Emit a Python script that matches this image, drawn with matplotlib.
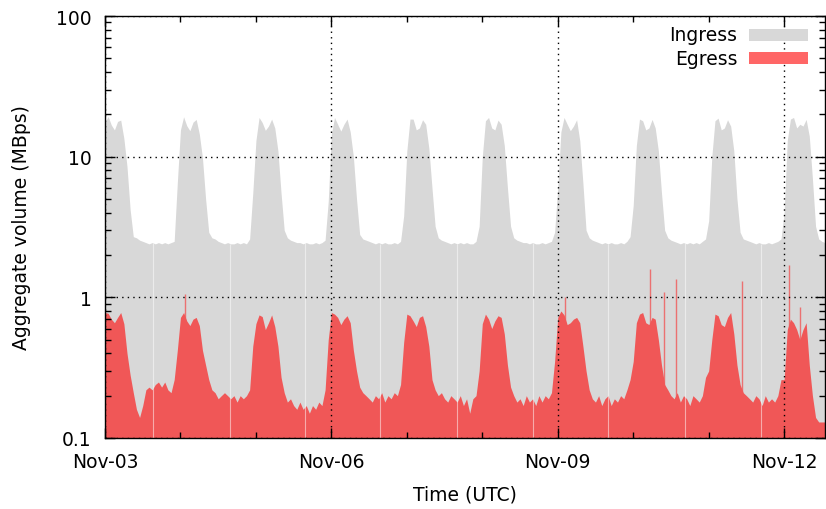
import numpy as np
import pandas as pd
import matplotlib
matplotlib.use('Agg')
import matplotlib.pyplot as plt
import matplotlib.dates as mdates
from matplotlib.patches import Rectangle

# hourly aggregate volume (MBps), one row per day starting Nov-03 00:00 UTC
ingress = [
    17.5, 19.3, 16.8, 15.5, 17.8, 18.2, 13.5, 8.5, 4.2, 2.7, 2.65, 2.55, 2.5, 2.45, 2.4, 2.45, 2.4, 2.45, 2.4, 2.45, 2.4, 2.45, 2.5, 6.5,
    15.5, 19.2, 16.6, 15.3, 17.6, 18.4, 14.5, 9.8, 5.0, 2.9, 2.65, 2.6, 2.5, 2.45, 2.4, 2.45, 2.4, 2.4, 2.45, 2.4, 2.45, 2.4, 2.6, 5.5,
    13.0, 19.0, 17.5, 15.4, 16.5, 18.5, 16.0, 11.0, 5.5, 3.0, 2.65, 2.55, 2.5, 2.45, 2.45, 2.4, 2.45, 2.4, 2.4, 2.45, 2.4, 2.45, 2.55, 4.8,
    14.5, 19.0, 17.0, 15.2, 17.0, 18.5, 15.0, 10.0, 5.0, 2.8, 2.6, 2.55, 2.5, 2.45, 2.4, 2.45, 2.4, 2.45, 2.4, 2.4, 2.45, 2.4, 2.5, 3.8,
    11.0, 18.5, 18.5, 15.5, 16.0, 18.3, 17.0, 11.5, 6.0, 3.2, 2.65, 2.55, 2.5, 2.45, 2.4, 2.45, 2.4, 2.45, 2.4, 2.45, 2.4, 2.4, 2.5, 3.2,
    10.0, 18.0, 19.0, 16.0, 15.5, 18.2, 17.0, 12.0, 6.0, 3.2, 2.65, 2.55, 2.5, 2.45, 2.45, 2.4, 2.45, 2.4, 2.4, 2.45, 2.4, 2.45, 2.5, 2.9,
    6.0, 15.0, 19.0, 17.0, 15.3, 16.5, 18.3, 13.0, 6.5, 3.0, 2.65, 2.55, 2.5, 2.45, 2.4, 2.45, 2.4, 2.45, 2.4, 2.4, 2.45, 2.4, 2.5, 2.7,
    4.5, 12.0, 18.5, 18.0, 15.5, 16.0, 18.4, 16.0, 11.0, 5.5, 3.0, 2.65, 2.55, 2.5, 2.45, 2.4, 2.45, 2.4, 2.45, 2.4, 2.45, 2.4, 2.5, 2.6,
    3.5, 10.0, 18.0, 18.8, 15.5, 16.0, 18.3, 16.5, 11.0, 5.0, 2.9, 2.6, 2.55, 2.5, 2.45, 2.4, 2.45, 2.4, 2.4, 2.45, 2.4, 2.45, 2.5, 2.6,
    4.0, 13.0, 18.5, 19.0, 16.0, 17.0, 16.5, 18.4, 14.0, 7.0, 3.2, 2.6, 2.5, 2.45,
]

egress = [
    0.78, 0.77, 0.70, 0.66, 0.72, 0.78, 0.65, 0.40, 0.28, 0.21, 0.16, 0.14, 0.17, 0.22, 0.23, 0.22, 0.24, 0.25, 0.23, 0.25, 0.22, 0.21, 0.26, 0.42,
    0.72, 0.78, 0.68, 0.63, 0.70, 0.72, 0.63, 0.42, 0.33, 0.26, 0.22, 0.21, 0.19, 0.20, 0.21, 0.20, 0.19, 0.20, 0.18, 0.20, 0.19, 0.20, 0.22, 0.45,
    0.65, 0.75, 0.73, 0.59, 0.66, 0.75, 0.62, 0.45, 0.27, 0.21, 0.18, 0.19, 0.17, 0.16, 0.18, 0.16, 0.17, 0.15, 0.17, 0.16, 0.18, 0.17, 0.22, 0.50,
    0.78, 0.76, 0.72, 0.64, 0.70, 0.74, 0.66, 0.42, 0.30, 0.23, 0.21, 0.20, 0.19, 0.18, 0.20, 0.19, 0.21, 0.18, 0.20, 0.19, 0.21, 0.20, 0.24, 0.48,
    0.76, 0.74, 0.68, 0.62, 0.72, 0.74, 0.62, 0.45, 0.26, 0.22, 0.20, 0.21, 0.19, 0.18, 0.20, 0.19, 0.18, 0.20, 0.17, 0.19, 0.15, 0.19, 0.20, 0.30,
    0.65, 0.76, 0.70, 0.60, 0.68, 0.74, 0.72, 0.55, 0.33, 0.23, 0.20, 0.18, 0.19, 0.17, 0.20, 0.18, 0.19, 0.17, 0.20, 0.18, 0.20, 0.19, 0.21, 0.35,
    0.72, 0.80, 0.75, 0.64, 0.66, 0.70, 0.72, 0.66, 0.45, 0.30, 0.22, 0.19, 0.18, 0.20, 0.17, 0.19, 0.20, 0.17, 0.19, 0.18, 0.20, 0.19, 0.22, 0.26,
    0.35, 0.66, 0.76, 0.78, 0.66, 0.64, 0.72, 0.70, 0.50, 0.33, 0.24, 0.22, 0.20, 0.19, 0.21, 0.18, 0.20, 0.19, 0.17, 0.20, 0.19, 0.18, 0.20, 0.27,
    0.30, 0.50, 0.76, 0.74, 0.64, 0.62, 0.72, 0.78, 0.55, 0.33, 0.24, 0.21, 0.20, 0.19, 0.18, 0.20, 0.19, 0.17, 0.20, 0.18, 0.19, 0.18, 0.20, 0.26,
    0.26, 0.59, 0.70, 0.66, 0.59, 0.50, 0.59, 0.66, 0.33, 0.20, 0.14, 0.13, 0.13, 0.13,
]

# short egress bursts (hours since Nov-03 00:00, MBps)
spike_hours = [25.6, 146.2, 173.4, 177.8, 181.6, 202.7, 217.7, 221.0]
spike_values = [1.05, 1.0, 1.6, 1.1, 1.35, 1.3, 1.7, 0.85]

# daily collection gaps (hours since Nov-03 00:00)
gap_hours = [15.3, 39.8, 63.7, 87.6, 111.9, 136.1, 160.0, 184.5, 208.8]

start = pd.Timestamp('2015-11-03')
times = start + pd.to_timedelta(np.arange(len(ingress)), unit='h')
spike_t = start + pd.to_timedelta(spike_hours, unit='h')
gap_t = start + pd.to_timedelta(gap_hours, unit='h')

plt.rcParams['font.family'] = 'DejaVu Sans'
plt.rcParams['font.size'] = 13.5

fig = plt.figure(figsize=(8.26, 5.10), dpi=100)
ax = fig.add_axes([105 / 826, 1 - 439 / 510, 720 / 826, 422 / 510])

ax.fill_between(times, 0.01, ingress, color='#d8d8d8', lw=0, zorder=1)
ax.fill_between(times, 0.01, egress, color='#f05757', lw=0, zorder=1.2)
ax.vlines(spike_t, 0.1, spike_values, color='#f05757', lw=1.0, alpha=0.8, zorder=1.3)
gap_top = [ingress[int(round(h))] for h in gap_hours]
ax.vlines(gap_t, 0.1, gap_top, color='white', lw=0.8, alpha=0.5, zorder=1.4)

ax.set_yscale('log')
ax.set_ylim(0.1, 100)
ax.set_xlim(times[0], times[-1])
ax.set_yticks([0.1, 1, 10, 100])
ax.set_yticklabels(['0.1', '1', '10', '100'])
ax.xaxis.set_major_locator(mdates.DayLocator(bymonthday=[3, 6, 9, 12]))
ax.xaxis.set_minor_locator(mdates.DayLocator())
ax.xaxis.set_major_formatter(mdates.DateFormatter('%b-%d'))

ax.tick_params(which='both', direction='in', top=True, right=True, width=1, colors='black')
ax.tick_params(which='major', length=7)
ax.tick_params(which='minor', length=4)
ax.tick_params(axis='x', which='major', pad=10)
ax.tick_params(axis='y', which='major', pad=9.5)
for s in ax.spines.values():
    s.set_linewidth(1)
    s.set_zorder(3)

ax.set_axisbelow(False)
ax.grid(True, which='major', color='black', linestyle=(0, (1, 3)), linewidth=1)

ax.set_xlabel('Time (UTC)', labelpad=10)
ax.set_ylabel('Aggregate volume (MBps)', labelpad=18)

# gnuplot-like key: label right-aligned, swatch on the right
key = [('Ingress', '#d8d8d8', 0.955), ('Egress', '#ff6666', 0.900)]
for label, col, yk in key:
    ax.text(0.878, yk, label, transform=ax.transAxes, ha='right', va='center', zorder=5)
    ax.add_patch(Rectangle((0.895, yk - 0.0143), 0.081, 0.0286, transform=ax.transAxes,
                           facecolor=col, edgecolor='none', zorder=5))

fig.savefig('out.png', dpi=100)
